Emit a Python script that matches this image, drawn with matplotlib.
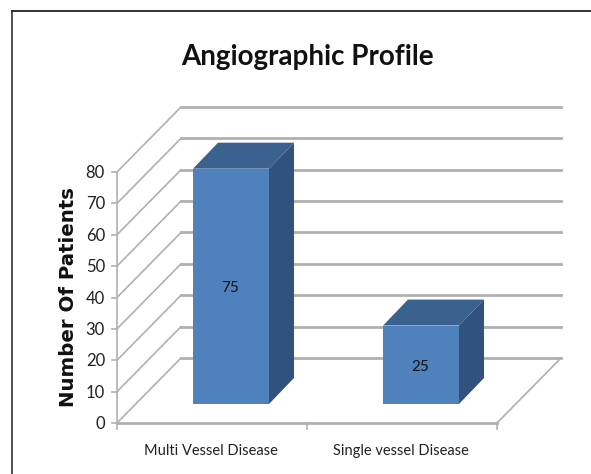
import matplotlib.pyplot as plt
from matplotlib.patches import Polygon

# Chart values
categories = ["Multi Vessel Disease", "Single vessel Disease"]
patients = [75, 25]
y_ticks = [0, 10, 20, 30, 40, 50, 60, 70, 80]

title = "Angiographic Profile"
y_label = "Number Of Patients"

# Pixel layout of the front plane
W, H = 591, 474
x0_px, y0_px = 117, 423
cat_px = 190.0
unit_px = 3.1375
wall_dx, wall_dy = 64 / cat_px, 65 / unit_px   # depth of the floor
bar_w = 76 / cat_px
bar_dx, bar_dy = 25 / cat_px, 26 / unit_px     # depth of a bar
bar_base = 19 / unit_px
bar_shift = 19 / cat_px
wall_right = 2 + wall_dx
text_drop = 2 / unit_px    # text sits a little low of centre in the original

grid_col = "#b0b0b0"
front_col = "#4f81bd"
top_col = "#3b618f"
side_col = "#31527c"
font = "Lato"

fig = plt.figure(figsize=(W / 100, H / 100), dpi=100)
ax = fig.add_axes([0, 0, 1, 1])
ax.set_xlim(-x0_px / cat_px, (W - x0_px) / cat_px)
ax.set_ylim(-(H - y0_px) / unit_px, y0_px / unit_px)
ax.axis("off")

# Outer frame, its right and bottom sides are cut off by the image
ax.plot([12 / W, 12 / W], [0, 1 - 11 / H], transform=ax.transAxes, color="#222222", lw=1.1)
ax.plot([12 / W, 1], [1 - 11 / H, 1 - 11 / H], transform=ax.transAxes, color="#222222", lw=1.3)

# Side wall and back wall gridlines
for t in y_ticks:
    ax.plot([0, wall_dx], [t, t + wall_dy], color=grid_col, lw=1.2, zorder=1)
    ax.plot([wall_dx, wall_right], [t + wall_dy, t + wall_dy], color=grid_col, lw=2, zorder=1)

# Floor
ax.plot([0, 2], [0, 0], color=grid_col, lw=2, zorder=1)
ax.plot([2, wall_right], [0, wall_dy], color=grid_col, lw=1.2, zorder=1)

# Value axis
ax.plot([0, 0], [0, y_ticks[-1]], color=grid_col, lw=1.2, zorder=1)
for t in y_ticks:
    ax.plot([-5 / cat_px, 0], [t, t], color=grid_col, lw=1.2, zorder=1)
    ax.text(-12 / cat_px, t - text_drop / 2, str(t), ha="right", va="center", fontsize=12,
            family=font, color="#222222")

# Category axis
for i in range(len(categories) + 1):
    ax.plot([i, i], [0, -6 / unit_px], color=grid_col, lw=1.2, zorder=1)

# Bars
for i, (cat, val) in enumerate(zip(categories, patients)):
    left = i + 0.5 - bar_w / 2 + bar_shift
    right = left + bar_w
    bottom = bar_base
    top = bottom + val
    ax.add_patch(Polygon([(left, bottom), (right, bottom), (right, top), (left, top)],
                         closed=True, fc=front_col, ec="none", zorder=3))
    ax.add_patch(Polygon([(left, top), (right, top), (right + bar_dx, top + bar_dy),
                          (left + bar_dx, top + bar_dy)],
                         closed=True, fc=top_col, ec="none", zorder=3))
    ax.add_patch(Polygon([(right, bottom), (right + bar_dx, bottom + bar_dy),
                          (right + bar_dx, top + bar_dy), (right, top)],
                         closed=True, fc=side_col, ec="none", zorder=3))
    ax.text((left + right) / 2 - 1 / cat_px, (bottom + top) / 2 - text_drop, str(val),
            ha="center", va="center", fontsize=11, family=font, color="#111111", zorder=4)
    ax.text(i + 0.5 - 1 / cat_px, -28 / unit_px, cat, ha="center", va="center", fontsize=10.5,
            family=font, color="#222222")

# Titles
ax.text(307 / W, 1 - 57 / H, title, transform=ax.transAxes, ha="center", va="center",
        fontsize=20, fontweight="bold", family=font, color="#111111")
ax.text(69 / W, 1 - 297 / H, y_label, transform=ax.transAxes, ha="center", va="center",
        rotation=90, fontsize=14.2, fontweight="bold", family="DejaVu Sans", color="#111111")

fig.savefig("out.png", dpi=100)
